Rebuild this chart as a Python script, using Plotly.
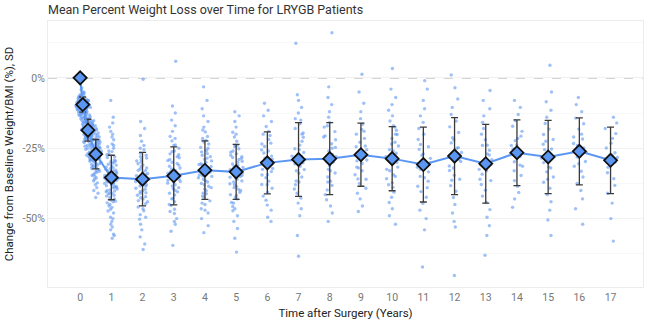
import plotly.graph_objects as go

# ---- data ----
times = [0, 1/12, 0.25, 0.5, 1, 2, 3, 4, 5, 6, 7, 8, 9, 10, 11, 12, 13, 14, 15, 16, 17]
mean_pct = [0, -9.5, -18.6, -27.1, -35.4, -36.0, -34.8, -32.8, -33.4, -30.2, -29.0,
            -28.7, -27.3, -28.7, -30.8, -27.8, -30.5, -26.6, -28.1, -26.1, -29.3]
sd_pct = [0, 2.7, 3.9, 5.2, 7.9, 9.5, 10.3, 10.4, 9.8, 11.0, 13.1,
          12.8, 11.2, 11.4, 13.3, 13.7, 14.0, 11.7, 13.0, 11.9, 11.8]

pts_0 = [0, 0, 0, 0, 0]
pts_1m = [-3.5,-4.2,-5.0,-5.5,-6.1,-6.4,-6.8,-7.0,-7.3,-7.6,-7.9,-8.1,-8.3,-8.5,-8.7,-8.9,-9.0,-9.2,-9.3,-9.5,
          -9.6,-9.8,-9.9,-10.0,-10.1,-10.3,-10.4,-10.6,-10.7,-10.9,-11.0,-11.2,-11.4,-11.6,-11.8,-12.0,-12.3,
          -12.6,-12.9,-13.2,-13.6,-14.0,-14.5,-15.1,-15.8,-16.5,-17.5,-9.4,-10.2,-8.0,-11.5,-12.2,-7.5,-6.0,
          -13.0,-10.8,-9.1,-8.6,
          -5.2,-6.6,-7.1,-7.7,-8.2,-8.4,-8.8,-9.05,-9.35,-9.7,-9.85,-10.05,-10.25,-10.5,-10.65,-11.1,-11.3,
          -11.7,-12.1,-12.5,-13.4,-14.2,-8.55,-9.55,-10.35,-11.05,-7.8,-12.8,-6.7,-9.75]
pts_3m = [-10.5,-11.8,-12.5,-13.2,-13.8,-14.3,-14.7,-15.1,-15.5,-15.8,-16.1,-16.4,-16.7,-17.0,-17.2,-17.5,
          -17.7,-18.0,-18.2,-18.4,-18.6,-18.8,-19.0,-19.2,-19.4,-19.6,-19.8,-20.0,-20.3,-20.6,-20.9,-21.2,
          -21.5,-21.9,-22.3,-22.8,-23.3,-23.9,-24.6,-25.4,-26.3,-27.5,-29.0,-17.9,-18.5,-19.1,-16.9,-20.1,
          -15.3,-21.7,-18.1,-17.4,-19.5,-22.0,-14.0,-23.0,-16.2,-20.7,-18.9,-24.0,
          -12.0,-13.5,-14.5,-15.0,-15.7,-16.0,-16.6,-17.1,-17.6,-18.3,-18.7,-19.3,-19.7,-20.2,-20.5,-21.0,
          -21.4,-22.1,-22.6,-23.6,-25.0,-26.8,-18.45,-19.9,-17.3,-16.5,-20.8,-24.3,-15.9,-19.05]
pts_6m = [-15.2,-17.0,-18.5,-19.6,-20.5,-21.2,-21.9,-22.5,-23.0,-23.5,-24.0,-24.4,-24.8,-25.2,-25.6,-26.0,
          -26.3,-26.6,-26.9,-27.2,-27.5,-27.8,-28.1,-28.4,-28.7,-29.0,-29.4,-29.8,-30.2,-30.6,-31.0,-31.5,
          -32.0,-32.6,-33.2,-33.9,-34.7,-35.6,-36.6,-38.0,-40.0,-42.5,-27.0,-26.2,-28.9,-25.0,-30.0,-23.8,
          -31.8,-27.6,-29.2,-24.6,-33.0,-22.2,-35.0,-28.3,-26.8,-21.5,
          -18.0,-20.0,-21.0,-22.0,-22.8,-23.3,-24.2,-25.4,-25.8,-26.4,-27.1,-27.4,-28.0,-28.6,-29.1,-29.6,
          -30.4,-31.2,-32.3,-33.5,-34.3,-36.0,-37.3,-39.0,-41.0,-26.5,-28.2,-30.8,-24.9,-27.9]
pts_1y = [-14.0,-17.5,-20.0,-22.0,-23.5,-25.0,-26.2,-27.3,-28.3,-29.2,-30.0,-30.7,-31.4,-32.0,-32.6,-33.2,
          -33.7,-34.2,-34.7,-35.2,-35.7,-36.2,-36.7,-37.2,-37.7,-38.3,-38.9,-39.5,-40.2,-40.9,-41.7,-42.5,
          -43.4,-44.4,-45.5,-46.7,-48.0,-49.5,-51.0,-53.0,-55.5,-57.0,-35.0,-33.0,-37.0,-31.0,-39.0,-29.5,
          -41.0,-36.0,-34.0,-38.0,-27.0,-43.0,-24.5,-46.0,-32.3,-40.5,-35.8,-19.0,-8.0,
          -16.0,-21.0,-24.0,-26.0,-28.0,-30.3,-31.7,-33.5,-34.5,-35.5,-36.5,-37.5,-38.6,-39.8,-41.3,-42.0,
          -44.0,-45.0,-47.3,-50.0,-52.0,-54.0,-56.0,-34.9,-36.9,-32.8,-40.0,-29.8,-43.8,-38.7]
pts_2y = [-0.5,-15.5,-18.0,-20.5,-22.5,-24.0,-25.5,-26.8,-28.0,-29.0,-30.0,-31.0,-32.0,-32.8,-33.6,-34.4,
          -35.2,-36.0,-36.8,-37.6,-38.4,-39.2,-40.0,-40.8,-41.7,-42.6,-43.6,-44.7,-45.9,-47.2,-48.6,-50.2,
          -52.0,-54.0,-56.5,-59.0,-61.0,-36.5,-34.0,-38.5,-31.5,-41.0,-27.5,-44.0,-33.0,
          -25.0,-29.5,-32.4,-35.6,-37.2,-39.6,-42.2,-46.5,-30.5,-34.8,-38.0,-40.4,-28.5,-43.0,-49.5]
pts_3y = [5.9,-10.0,-12.5,-15.0,-17.0,-19.0,-20.8,-22.4,-23.8,-25.0,-26.2,-27.3,-28.4,-29.4,-30.4,-31.4,
          -32.4,-33.4,-34.4,-35.4,-36.4,-37.4,-38.4,-39.4,-40.5,-41.6,-42.8,-44.0,-45.3,-46.7,-48.2,-50.0,
          -52.0,-54.5,-59.5,-34.0,-36.0,-32.0,-38.0,-30.0,-40.0,-27.0,-43.0,-24.0,
          -21.5,-26.0,-29.0,-31.0,-33.0,-35.0,-37.0,-39.0,-41.0,-45.0,-47.5,-28.0,-36.8,-33.8,-51.0]
pts_4y = [-3.2,-8.0,-11.0,-13.5,-15.5,-17.5,-19.2,-20.8,-22.2,-23.5,-24.7,-25.8,-26.9,-28.0,-29.0,-30.0,
          -31.0,-32.0,-33.0,-34.0,-35.0,-36.0,-37.0,-38.0,-39.0,-40.1,-41.2,-42.4,-43.7,-45.0,-46.5,-48.0,
          -50.0,-52.5,-55.0,-33.5,-31.5,-35.5,-29.5,-37.5,-27.5,-39.5,-25.0,-42.0,
          -18.5,-22.8,-26.3,-28.5,-30.5,-32.5,-34.5,-36.5,-38.5,-41.0,-44.5,-21.5,-30.8,-34.8,-47.0]
pts_5y = [-12.0,-13.5,-15.5,-17.5,-19.3,-21.0,-22.5,-23.9,-25.2,-26.4,-27.5,-28.6,-29.6,-30.6,-31.6,-32.6,
          -33.6,-34.6,-35.6,-36.6,-37.6,-38.6,-39.6,-40.7,-41.8,-43.0,-44.3,-45.7,-47.2,-49.0,-51.0,-53.5,
          -57.0,-61.9,-33.0,-35.0,-31.0,-37.0,-29.0,-39.0,-27.0,-41.5,-24.5,-44.5,
          -20.0,-24.0,-26.0,-28.0,-30.0,-32.0,-34.0,-36.0,-38.0,-40.0,-42.5,-46.5,-31.8,-35.3,-28.3]
pts_6y = [-9.0,-11.5,-13.5,-15.5,-17.3,-19.0,-20.5,-21.9,-23.2,-24.4,-25.6,-26.7,-27.8,-28.9,-30.0,-31.1,
          -32.2,-33.3,-34.4,-35.5,-36.7,-37.9,-39.2,-40.6,-42.0,-43.5,-45.2,-47.0,-49.5,-51.0,-30.5,-28.5,
          -32.5,-26.0,-34.5,-23.5,-38.0,-20.0]
pts_7y = [12.3,-6.0,-8.0,-10.5,-12.5,-14.5,-16.3,-18.0,-19.6,-21.1,-22.5,-23.9,-25.2,-26.5,-27.8,-29.0,
          -30.2,-31.4,-32.6,-33.9,-35.2,-36.6,-38.0,-39.5,-41.0,-42.7,-44.5,-46.5,-49.0,-56.0,-63.4,-28.0,
          -30.5,-25.5,-33.0,-20.0,-37.0,-15.0]
pts_8y = [16.0,-3.2,-7.0,-9.5,-12.0,-14.0,-15.8,-17.5,-19.1,-20.6,-22.0,-23.4,-24.7,-26.0,-27.3,-28.6,
          -29.9,-31.2,-32.5,-33.8,-35.2,-36.7,-38.2,-39.8,-41.5,-43.3,-45.5,-48.0,-51.0,-28.0,-30.0,-25.0,
          -33.0,-21.0,-37.0,-17.0]
pts_9y = [1.3,-5.0,-9.0,-12.0,-14.5,-16.5,-18.3,-20.0,-21.5,-22.9,-24.2,-25.5,-26.8,-28.0,-29.2,-30.4,
          -31.7,-33.0,-34.4,-35.9,-37.5,-39.2,-41.0,-43.0,-45.5,-47.5,-27.0,-29.5,-24.5,-32.0,-19.0,-36.0]
pts_10y = [3.3,-4.0,-7.0,-9.5,-11.5,-13.5,-15.3,-17.0,-18.6,-20.1,-21.5,-22.9,-24.2,-25.5,-26.8,-28.0,
           -29.2,-30.4,-31.7,-33.0,-34.4,-35.8,-37.3,-38.9,-40.6,-42.4,-44.3,-46.5,-49.0,-52.0,-28.5,-30.0,
           -26.0,-32.5,-23.5,-35.0,-20.0,-38.0,-17.5]
pts_11y = [-1.0,-4.0,-8.0,-11.0,-13.5,-15.8,-18.0,-20.0,-21.9,-23.7,-25.4,-27.0,-28.6,-30.2,-31.8,-33.4,
           -35.0,-36.7,-38.5,-40.4,-42.4,-44.6,-47.0,-50.0,-54.0,-67.2,-30.0,-32.5,-27.5,-35.5,-24.5,-39.0]
pts_12y = [1.0,-3.5,-7.5,-10.5,-13.0,-15.3,-17.4,-19.4,-21.3,-23.1,-24.8,-26.5,-28.1,-29.7,-31.3,-32.9,
           -34.6,-36.4,-38.3,-40.3,-42.5,-45.0,-48.0,-51.0,-53.0,-70.2,-27.0,-29.0,-25.0,-32.0,-22.0,-36.0]
pts_13y = [-4.5,-8.0,-11.0,-13.5,-15.8,-18.0,-20.0,-22.0,-23.9,-25.7,-27.4,-29.1,-30.8,-32.5,-34.2,-36.0,
           -37.9,-39.9,-42.0,-44.3,-46.8,-49.5,-52.5,-56.0,-63.0,-30.0,-33.0,-27.0,-36.5,-24.0]
pts_14y = [-8.0,-10.5,-13.0,-15.2,-17.2,-19.0,-20.7,-22.3,-23.8,-25.3,-26.8,-28.3,-29.8,-31.4,-33.0,-34.7,
           -36.5,-38.5,-40.7,-43.0,-46.0,-26.0,-28.0,-24.0,-31.0,-21.5]
pts_15y = [4.5,-5.0,-8.5,-11.5,-14.0,-16.2,-18.2,-20.1,-21.9,-23.6,-25.3,-26.9,-28.5,-30.1,-31.7,-33.4,
           -35.2,-37.1,-39.2,-41.5,-44.0,-47.0,-50.5,-56.0,-27.5,-29.5,-25.5,-32.0,-22.5,-36.0]
pts_16y = [-7.0,-9.5,-12.0,-14.3,-16.3,-18.2,-20.0,-21.7,-23.3,-24.9,-26.5,-28.1,-29.7,-31.4,-33.2,-35.2,
           -37.5,-40.0,-43.0,-46.5,-52.0,-26.0,-28.0,-24.0,-30.5,-21.0]
pts_17y = [-14.0,-16.0,-18.0,-19.8,-21.5,-23.2,-24.9,-26.6,-28.3,-30.0,-31.8,-33.7,-35.8,-38.2,-41.0,-44.5,
           -50.0,-58.0,-29.0,-27.5]

point_groups = [pts_0, pts_1m, pts_3m, pts_6m, pts_1y, pts_2y, pts_3y, pts_4y, pts_5y, pts_6y, pts_7y,
                pts_8y, pts_9y, pts_10y, pts_11y, pts_12y, pts_13y, pts_14y, pts_15y, pts_16y, pts_17y]

x_ticks = list(range(0, 18))
y_ticks = [0, -25, -50]
y_tick_text = ["0%", "-25%", "-50%"]

# ---- build ----
px_all, py_all = [], []
for t, grp in zip(times, point_groups):
    px_all += [t] * len(grp)
    py_all += grp

FONT = "Roboto, 'Noto Sans', sans-serif"
BLUE = "#5b97f2"

fig = go.Figure()
fig.add_trace(go.Box(
    x=px_all, y=py_all, boxpoints="all", jitter=1, pointpos=0, width=0.46,
    line=dict(width=0, color="rgba(0,0,0,0)"), fillcolor="rgba(0,0,0,0)",
    marker=dict(color="rgba(100,155,242,0.62)", size=3.4, line=dict(width=0)),
    showlegend=False, hoverinfo="y"))

fig.add_trace(go.Scatter(
    x=times, y=mean_pct, mode="lines+markers",
    line=dict(color=BLUE, width=2),
    marker=dict(symbol="diamond", size=10, color=BLUE, line=dict(color="#111111", width=1.8)),
    error_y=dict(type="data", array=sd_pct, visible=True, color="#3a3a3a", thickness=1.3, width=3.5),
    showlegend=False))

fig.add_hline(y=0, line=dict(color="#888888", width=1, dash="dash"), layer="below")

fig.update_layout(
    width=645, height=320,
    margin=dict(l=48, r=2, t=21, b=33),
    paper_bgcolor="white", plot_bgcolor="white",
    font=dict(family=FONT, size=11, color="#333333"),
    title=dict(text="Mean Percent Weight Loss over Time for LRYGB Patients",
               x=0, xref="paper", xanchor="left", y=0.985, yanchor="top",
               font=dict(family=FONT, size=12.5, color="#333333")),
    xaxis=dict(range=[-1.03, 18.04], tickvals=x_ticks, showgrid=False, zeroline=False,
               showline=True, mirror=True, linecolor="#ececec", linewidth=1,
               ticks="", tickfont=dict(size=10.5, color="#777777"),
               title=dict(text="Time after Surgery (Years)", font=dict(size=11.5, color="#222222"),
                          standoff=6)),
    yaxis=dict(range=[-74.3, 20.2], tickvals=y_ticks, ticktext=y_tick_text,
               showgrid=True, gridcolor="#f1f1f1", zeroline=False,
               minor=dict(tickvals=[12.5, -12.5, -37.5, -62.5], showgrid=True, gridcolor="#f8f8f8"),
               showline=True, mirror=True, linecolor="#ececec", linewidth=1,
               ticks="", tickfont=dict(size=10.5, color="#777777"),
               title=dict(text="Change from Baseline Weight/BMI (%), SD",
                          font=dict(size=11.5, color="#222222"), standoff=6)),
)

fig.write_html("out.html", config={"displayModeBar": False},
               post_script="document.body.style.margin='0px';")
